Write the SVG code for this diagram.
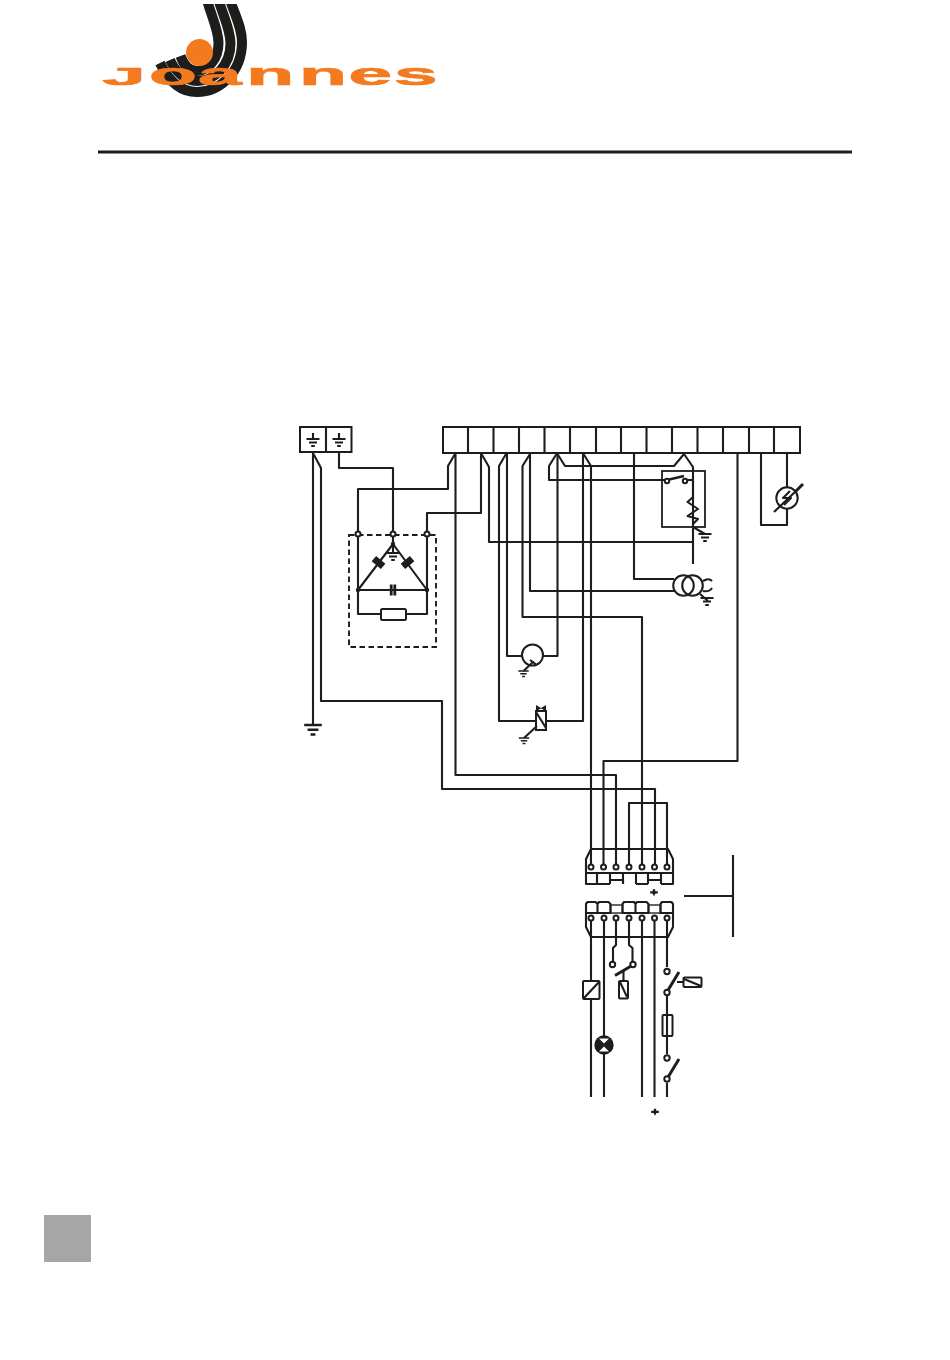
<svg xmlns="http://www.w3.org/2000/svg" xmlns:xlink="http://www.w3.org/1999/xlink" width="950" height="1360" viewBox="0 0 950 1360">
<style>
.w{fill:none;stroke:#1d1d1b;stroke-width:2.100;stroke-linejoin:round}
.t{fill:#fff;stroke:#1d1d1b;stroke-width:2}
.b{fill:#fff;stroke:#1d1d1b;stroke-width:2}
.k{fill:#1d1d1b;stroke:none}
.s{fill:none;stroke:#1d1d1b;stroke-width:10}
</style>
<defs>
<clipPath id="logoclip"><rect x="150" y="4" width="110" height="100"/></clipPath>
<g id="earth" class="w"><path d="M-6.500 0H6.500M-4 3.500H4M-1.800 7H1.800" stroke-width="1.900"/></g>
<g id="plus"><path class="k" d="M-1.200 -3.800H1.200V-1.800H3.800V0.500H1.500L0 3.200 -1.500 0.500H-3.800V-1.800H-1.200Z"/></g>
</defs>
<rect id="page" width="950" height="1360" fill="#fff"/>
<g id="logo">
<g clip-path="url(#logoclip)">
<path class="s" d="M207 0C211 15 218.500 30 218.500 43C218.500 59 208 71 197 71C190 71 184 66 180.500 56"/>
<path class="s" d="M218.500 0C223 15 230.500 30 230.500 43C230.500 65 215 81 197 81C186 81 176 73 170 60"/>
<path class="s" d="M230 0C235 15 242 28 242 42C242 72 220 92 197 92C180 92 168 80 160 63"/>
</g>
<circle cx="199.500" cy="52.500" r="13.500" fill="#f47a20"/>
<text transform="scale(2.45 1)" y="85.500" x="41.800 60.800 80.800 100.500 122 142.200 160.800" font-family="Liberation Sans, sans-serif" font-weight="700" font-size="32" fill="#f47a20" stroke="#f47a20" stroke-width="0.700"><tspan font-size="24" textLength="17.500" lengthAdjust="spacingAndGlyphs">J</tspan>oannes</text>
</g>
<rect id="header-rule" x="98" y="150.500" width="754" height="3" fill="#1d1d1b"/>
<rect id="page-tab" x="44" y="1215" width="47" height="47" fill="#a6a6a6"/>

<g id="connectors" class="w">
<path d="M313 452V725M313.500 454L321 468V701H442V789H655V868"/>
<path d="M339 452V468H393V534"/>
<path d="M358 534V489H448V466L455 454M455.500 453V775H616V868"/>
<path d="M427 534V513H481V453M481.500 454L489 467V542H693"/>
<path d="M507 453V656H521.500M543 656H557.500V453"/>
<path d="M506 454L499 466V721H536M546 721H583V453M583.500 454L591 466V868"/>
<path d="M530 454L522.500 466V617H642V868"/>
<path d="M530 453V591H674"/>
<path d="M556.500 454L549 466V480H665"/>
<path d="M557.500 454L565 466H674L684 454L693 467V564"/>
<path d="M634 453V579H674"/>
<path d="M737.500 453V761H603.500V868"/>
<path d="M761 453V525H787V509M787 487V453"/>
<path d="M629 868V803H667V868"/>
<path d="M693 527L705 534"/>
<path d="M685 480H693"/>
<path d="M703 581C708 578 710 579 712 581M703 591C708 592 710 591 712 588M700 594L708 601"/>
<path d="M684 896H733M733 855V937"/>
<path d="M591 920V981M591 999V1097M604 920V1036M604 1054V1097M642 920V1097M654.500 920V1097"/>
<path d="M616 920V945L613 948V961M629 920V945L632.500 948V961"/>
<path d="M667 920V967M667 996V1015M667 1036V1054M667 1083V1097"/>
<path d="M623.500 971V981M677 982H683"/>
</g>

<g id="terminal-earth">
<rect class="t" x="300" y="427" width="51.500" height="25"/><path class="w" d="M326 427V452M313 433V438M339 433V438"/>
<use href="#earth" xlink:href="#earth" x="313" y="439"/><use href="#earth" xlink:href="#earth" x="339" y="439"/>
</g>
<g id="terminal-strip">
<path class="t" d="M443 427H800V453H443Z" fill="none" style="fill:none"/>
<path class="w" d="M468 427V453M493.500 427V453M519 427V453M544.500 427V453M570 427V453M596 427V453M621 427V453M646.500 427V453M672 427V453M697.500 427V453M723 427V453M749 427V453M774 427V453"/>
</g>
<g id="earth-main"><use href="#earth" xlink:href="#earth" transform="translate(313 725) scale(1.350)"/></g>

<g id="bridge">
<rect x="349" y="535" width="87" height="112" fill="none" stroke="#1d1d1b" stroke-width="1.900" stroke-dasharray="5.500 3.500"/>
<path class="w" d="M358 534V614H381M406 614H427V534M393 534V544L427 590H358L393 544V553"/>
<circle class="b" cx="358" cy="534" r="2.500"/><circle class="b" cx="393" cy="534" r="2.500"/><circle class="b" cx="427" cy="534" r="2.500"/>
<circle class="k" cx="393" cy="544" r="2.200"/><circle class="k" cx="358" cy="590" r="2.200"/><circle class="k" cx="427" cy="590" r="2.200"/>
<use href="#earth" xlink:href="#earth" x="393" y="553"/>
<rect class="k" x="-6" y="-3.500" width="12" height="7" transform="translate(378.500 562.500) rotate(40)"/>
<rect class="k" x="-6" y="-3.500" width="12" height="7" transform="translate(407.500 562.500) rotate(-40)"/>
<rect class="k" x="389.800" y="584.500" width="2.800" height="11"/><rect class="k" x="393.400" y="584.500" width="2.800" height="11"/>
<rect class="b" x="381" y="609" width="25" height="11" rx="1.500"/>
</g>

<g id="motor">
<circle class="b" cx="532.500" cy="655" r="10.500"/>
<path class="w" d="M523.500 671L533 662L536 664.500M530 660L533 662"/>
<use href="#earth" xlink:href="#earth" x="523.500" y="671" transform="translate(104.700 134.200) scale(0.800)"/>
</g>
<g id="solenoid">
<rect class="b" x="536" y="711" width="10" height="19"/>
<path class="w" d="M536 712L546 728M524 738L537 726"/>
<path class="k" d="M536 705L541 708L546 705V711L541 708.500L536 711Z"/>
<use href="#earth" xlink:href="#earth" x="524" y="738" transform="translate(104.800 147.600) scale(0.800)"/>
</g>
<g id="thermostat">
<rect x="662" y="471" width="43" height="56" fill="none" stroke="#1d1d1b" stroke-width="1.800"/>
<path d="M667 480L684 476" fill="none" stroke="#1d1d1b" stroke-width="2.400"/>
<circle class="b" cx="667" cy="481" r="2.200"/><circle class="b" cx="685" cy="481" r="2.200"/>
<path class="w" d="M693 480V497L687.500 502L698 509L687.500 516L698 519L693 524V527"/>
<use href="#earth" xlink:href="#earth" x="705" y="534"/>
</g>
<g id="transformer">
<circle class="b" cx="683.500" cy="585.500" r="10.300"/><circle cx="692.500" cy="585.500" r="10.300" class="w"/>
<use href="#earth" xlink:href="#earth" x="707" y="598"/>
</g>
<g id="lamp-gauge">
<circle class="b" cx="787" cy="498" r="10.700"/>
<path class="w" d="M774 512L796 491"/>
<path d="M796 491L803 484" stroke="#1d1d1b" stroke-width="3"/>
<path class="w" d="M790 491L783 498H791L784 505"/>
</g>

<g id="connector-upper">
<path class="w" d="M610 884H586V859L591 849H668L673 859V884H661M636 884H648M610 880H623V884M648 880H661M636 884V873"/>
<path class="w" d="M586 873H673M597 873V884M610 873V884M623 873V884M648 873V884M661 873V884"/>
<circle class="b" cx="591" cy="867" r="2.500"/><circle class="b" cx="603.500" cy="867" r="2.500"/><circle class="b" cx="616" cy="867" r="2.500"/><circle class="b" cx="629" cy="867" r="2.500"/><circle class="b" cx="642" cy="867" r="2.500"/><circle class="b" cx="654.500" cy="867" r="2.500"/><circle class="b" cx="667" cy="867" r="2.500"/>
</g>
<g id="earth-mark-upper"><use href="#plus" xlink:href="#plus" x="654" y="893"/></g>
<g id="connector-lower">
<path class="w" d="M586 913V927L591 937H668L673 927V913Z"/>
<path class="b" d="M610.500 913V905H622.500V913ZM648.500 913V905H660.500V913Z" style="stroke:#666"/>
<path class="w" d="M586 913V904L587.500 902H595.500L597.500 904V913ZM597.500 913V904L599 902H608.500L610.500 904V913ZM622.500 913V904L624 902H634L635.500 904V913ZM635.500 913V904L637 902H646.500L648.500 904V913ZM660.500 913V904L662 902H671.500L673 904V913Z"/>
<circle class="b" cx="591" cy="918" r="2.500"/><circle class="b" cx="604" cy="918" r="2.500"/><circle class="b" cx="616" cy="918" r="2.500"/><circle class="b" cx="629" cy="918" r="2.500"/><circle class="b" cx="642" cy="918" r="2.500"/><circle class="b" cx="654.500" cy="918" r="2.500"/><circle class="b" cx="667" cy="918" r="2.500"/>
</g>
<g id="relay-coil"><rect class="b" x="583" y="981" width="16.500" height="18" rx="1"/><path class="w" d="M584 998L599 982"/></g>
<g id="indicator-lamp">
<circle class="k" cx="604" cy="1045" r="9.700"/>
<path d="M599 1038.500H609L604 1043.500ZM599 1051.500H609L604 1046.500Z" fill="#fff"/>
</g>
<g id="contact-a">
<path d="M615 975.500L632 965.500" stroke="#1d1d1b" stroke-width="3"/>
<circle class="b" cx="612.500" cy="964.500" r="2.700"/><circle class="b" cx="633" cy="964.500" r="2.700"/>
<rect class="b" x="619" y="981" width="9" height="17.500" rx="1"/><path class="w" d="M620 982L627 997"/>
</g>
<g id="contact-b">
<path d="M667.500 991L679 972" stroke="#1d1d1b" stroke-width="3"/>
<circle class="b" cx="667" cy="971.500" r="2.700"/><circle class="b" cx="667" cy="992.500" r="2.700"/>
<rect class="b" x="683.500" y="977.500" width="18" height="9.500" rx="1"/><path class="w" d="M684 979L701 986"/>
</g>
<g id="fuse"><rect class="b" x="662.500" y="1015" width="10" height="21" rx="1"/><path class="w" d="M667 1015V1036"/></g>
<g id="contact-c">
<path d="M667.500 1078L679 1059" stroke="#1d1d1b" stroke-width="3"/>
<circle class="b" cx="667" cy="1058" r="2.700"/><circle class="b" cx="667" cy="1079" r="2.700"/>
</g>
<g id="earth-mark-lower"><use href="#plus" xlink:href="#plus" x="655" y="1112.500"/></g>
</svg>
